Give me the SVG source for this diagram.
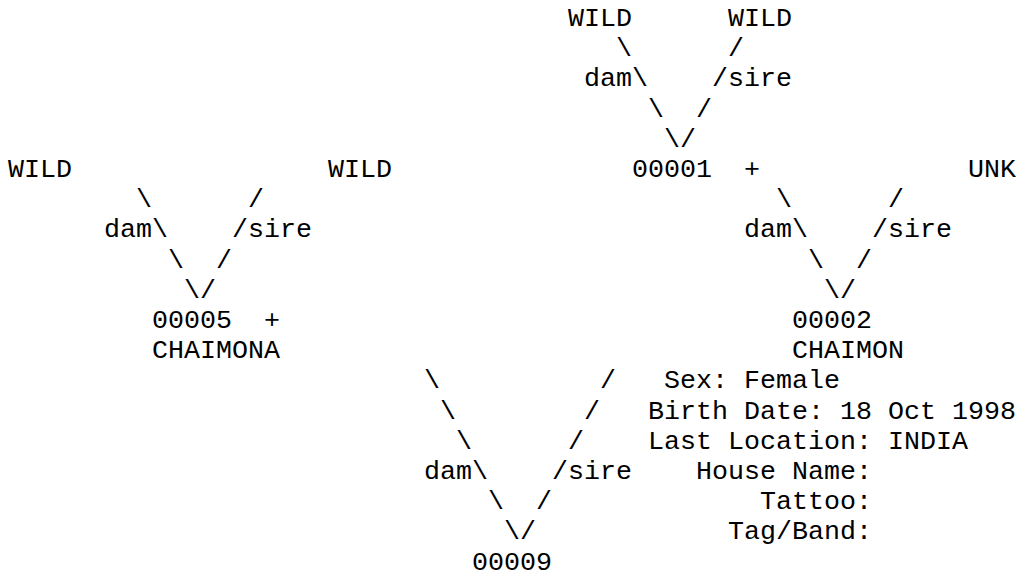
<svg xmlns="http://www.w3.org/2000/svg" width="1019" height="574" viewBox="0 0 1019 574">
<style>
text{font-family:"Liberation Mono","Courier New",monospace;font-size:26.67px;fill:#000;white-space:pre}
</style>
<rect width="1019" height="574" fill="#fff"/>
<g id="connectors">
<text x="616" y="56.2">\</text><text x="728" y="56.2">/</text>
<text x="584" y="86.4">dam\</text><text x="712" y="86.4">/sire</text>
<text x="648" y="116.6">\</text><text x="696" y="116.6">/</text>
<text x="664" y="146.8">\/</text>
<text x="136" y="207.2">\</text><text x="248" y="207.2">/</text>
<text x="776" y="207.2">\</text><text x="888" y="207.2">/</text>
<text x="104" y="237.4">dam\</text><text x="232" y="237.4">/sire</text>
<text x="744" y="237.4">dam\</text><text x="872" y="237.4">/sire</text>
<text x="168" y="267.6">\</text><text x="216" y="267.6">/</text>
<text x="808" y="267.6">\</text><text x="856" y="267.6">/</text>
<text x="184" y="297.8">\/</text>
<text x="824" y="297.8">\/</text>
<text x="424" y="388.4">\</text><text x="600" y="388.4">/</text>
<text x="440" y="418.6">\</text><text x="584" y="418.6">/</text>
<text x="456" y="448.8">\</text><text x="568" y="448.8">/</text>
<text x="424" y="479">dam\</text><text x="552" y="479">/sire</text>
<text x="488" y="509.2">\</text><text x="536" y="509.2">/</text>
<text x="504" y="539.4">\/</text>
</g>
<g id="node-wild-1"><text x="568" y="26">WILD</text></g>
<g id="node-wild-2"><text x="728" y="26">WILD</text></g>
<g id="node-wild-3"><text x="8" y="177">WILD</text></g>
<g id="node-wild-4"><text x="328" y="177">WILD</text></g>
<g id="node-00001"><text x="632" y="177">00001</text><text x="744" y="177">+</text></g>
<g id="node-unk"><text x="968" y="177">UNK</text></g>
<g id="node-00005"><text x="152" y="328">00005</text><text x="264" y="328">+</text><text x="152" y="358.2">CHAIMONA</text></g>
<g id="node-00002"><text x="792" y="328">00002</text><text x="792" y="358.2">CHAIMON</text></g>
<g id="node-info">
<text x="664" y="388.4">Sex: Female</text>
<text x="648" y="418.6">Birth Date: 18 Oct 1998</text>
<text x="648" y="448.8">Last Location: INDIA</text>
<text x="696" y="479">House Name:</text>
<text x="760" y="509.2">Tattoo:</text>
<text x="728" y="539.4">Tag/Band:</text>
</g>
<g id="node-00009"><text x="472" y="569.6">00009</text></g>
</svg>
